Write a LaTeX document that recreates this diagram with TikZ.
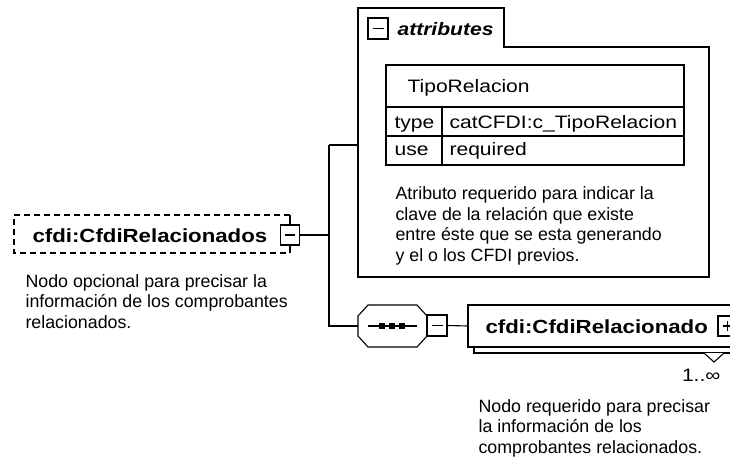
\documentclass[tikz,border=0pt]{standalone}
\usepackage{fontspec}
\setmainfont{Liberation Sans}
\newfontfamily\lblfont[FakeStretch=1.17]{Liberation Sans}
\newfontfamily\descfont{Liberation Sans}
\begin{document}
\begin{tikzpicture}[x=1pt,y=-1pt,line width=1.1pt,
  lbl/.style={font=\lblfont\bfseries\fontsize{19}{22}\selectfont,inner sep=0pt},
  tbltxt/.style={font=\lblfont\fontsize{18}{21}\selectfont,inner sep=0pt},
  desc/.style={font=\descfont\fontsize{17.8}{20.5}\selectfont,inner sep=0pt,align=left},
  btn/.style={draw,fill=white,minimum width=19pt,minimum height=20pt,inner sep=0pt},
  dashpat/.style={dash pattern=on 6pt off 4pt},
  plain/.style={inner sep=0pt,outer sep=0pt}]
\clip (0,0) rectangle (730,461);
\fill[white] (0,0) rectangle (730,461);

% ---- element cfdi:CfdiRelacionados (optional, dashed)
\node[plain,minimum width=276pt,minimum height=38pt,anchor=north west] (elem1) at (14,215) {};
\draw[dashpat] (elem1.north east) -- (elem1.north west) -- (elem1.south west) -- (elem1.south east);
\node[lbl,anchor=base west] (elem1lbl) at (32,242) {cfdi:CfdiRelacionados};
\node[btn] (btn1) at (290,235) {};
\draw ([xshift=-5pt]btn1.center) -- ([xshift=5pt]btn1.center);
\draw (btn1.north) -- (elem1.north east);
\draw (btn1.south) -- (elem1.south east);
% anchor base = baseline of the last line
\node[desc,anchor=base west] (desc1) at (25,328) {Nodo opcional para precisar la\\información de los comprobantes\\relacionados.};

% ---- trunk
\coordinate (jt) at (329,145);
\coordinate (jb) at (329,326);
\draw (btn1.east) -- (btn1.east -| jt);

% ---- attributes box
\node[plain,minimum width=351pt,minimum height=230pt,anchor=north west] (attrbody) at (358,47) {};
\node[plain,minimum width=146pt,minimum height=39pt,anchor=north west] (attrtab) at (358,8) {};
\draw (attrbody.south west) -- (attrtab.north west) -- (attrtab.north east) -- (attrtab.south east)
      -- (attrbody.north east) -- (attrbody.south east) -- cycle;
\node[btn,minimum width=20pt,minimum height=21pt] (abtn) at (378,28.5) {};
\draw ([xshift=-5.5pt]abtn.center) -- ([xshift=5.5pt]abtn.center);
\node[font=\lblfont\bfseries\itshape\fontsize{18}{21}\selectfont,inner sep=0pt,anchor=base west] (attrlbl) at (397,35) {attributes};
\draw (jt) -- (jt -| attrbody.west);

% attribute table
\node[draw,plain,minimum width=298pt,minimum height=100pt,anchor=north west] (tbl) at (386,65) {};
\draw (386,107) -- (684,107);
\draw (386,136) -- (684,136);
\draw (442,107) -- (442,165);
\node[tbltxt,anchor=base west] (tname) at (407,92) {TipoRelacion};
\node[tbltxt,anchor=base west] (ttype) at (394,128) {type};
\node[tbltxt,anchor=base west] (ttypev) at (449,128) {catCFDI:c\_TipoRelacion};
\node[tbltxt,anchor=base west] (tuse) at (394,155) {use};
\node[tbltxt,anchor=base west] (tusev) at (449,155) {required};
\node[desc,anchor=base west] (desc2) at (395,261) {Atributo requerido para indicar la\\clave de la relación que existe\\entre éste que se esta generando\\y el o los CFDI previos.};

% ---- sequence compositor
\node[plain,minimum width=69pt,minimum height=42pt,anchor=north west] (seq) at (358,305) {};
\draw ([xshift=10pt]seq.north west) -- ([xshift=-10pt]seq.north east) -- ([yshift=-11pt]seq.north east)
  -- ([yshift=11pt]seq.south east) -- ([xshift=-10pt]seq.south east) -- ([xshift=10pt]seq.south west)
  -- ([yshift=11pt]seq.south west) -- ([yshift=-11pt]seq.north west) -- cycle;
\draw ([xshift=10pt]seq.center) ++(-34.5pt,0) -- ++(49pt,0);
\foreach \dx in {-10.5,-0.5,9.5}
  \fill ([xshift=\dx pt]seq.center) ++(-2.6pt,-2.6pt) rectangle ++(5.2pt,5.2pt);
\node[btn,minimum width=20pt,minimum height=21pt] (sbtn) at (437,325.5) {};
\draw ([xshift=-5.5pt]sbtn.center) -- ([xshift=5.5pt]sbtn.center);
\draw (jt) -- (jb) -- (seq.west);

% ---- element cfdi:CfdiRelacionado (1..unbounded)
\node[draw,fill=white,plain,minimum width=280pt,minimum height=42pt,anchor=north west] (elem2shadow) at (474,311) {};
\node[draw,fill=white,plain,minimum width=280pt,minimum height=42pt,anchor=north west] (elem2) at (468,305) {};
\node[lbl,anchor=base west] (elem2lbl) at (485,333) {cfdi:CfdiRelacionado};
\node[btn] (btn3) at (727.5,326) {};
\draw ([xshift=-5pt]btn3.center) -- ([xshift=5pt]btn3.center);
\draw ([yshift=-5pt]btn3.center) -- ([yshift=5pt]btn3.center);
\draw (sbtn.east) -- (elem2.west);
\coordinate (tri) at (714,353);
\draw[fill=white] ([xshift=-10pt]tri) -- ([yshift=-9pt]tri) -- ([xshift=10pt]tri);
\node[tbltxt,anchor=base east] (occ) at (721,381) {1..∞};
\node[desc,anchor=base west] (desc3) at (478,453) {Nodo requerido para precisar\\la información de los\\comprobantes relacionados.};
\end{tikzpicture}
\end{document}
